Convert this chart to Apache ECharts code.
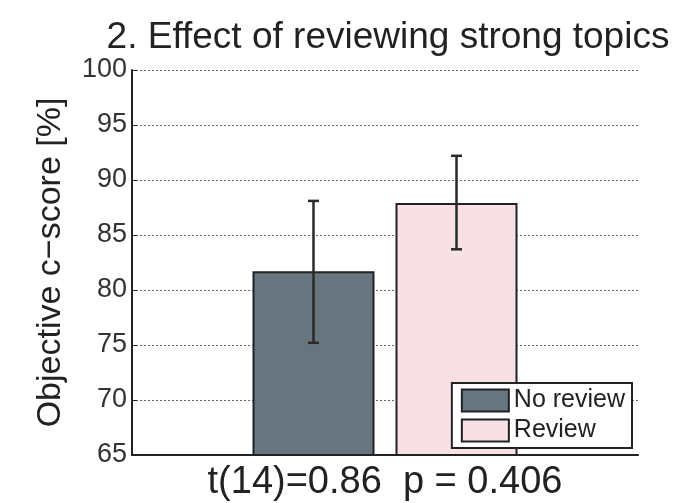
<!DOCTYPE html>
<html>
<head>
<meta charset="utf-8">
<script src="https://cdn.jsdelivr.net/npm/echarts@6/dist/echarts.min.js"></script>
<style>html,body{margin:0;padding:0;background:#fff;}#c{width:687px;height:503px;}</style>
</head>
<body>
<div id="c"></div>
<script>
var titleText = '2. Effect of reviewing strong topics';
var xLabel = 't(14)=0.86  p = 0.406';
var yLabel = 'Objective c\u2212score [%]';
var categories = ['group'];
var seriesNames = ['No review', 'Review'];
var means = [81.7, 87.9];
var errLow = [75.2, 83.7];
var errHigh = [88.1, 92.2];
var yTicks = [65, 70, 75, 80, 85, 90, 95, 100];

var colors = ['#67757e', '#f7e1e4'];
var barWidth = 122;
var barGapPx = 21;
var font = 'Liberation Sans';

var chart = echarts.init(document.getElementById('c'));
var series = seriesNames.map(function (n, i) {
  return {
    name: n, type: 'bar', data: [means[i]], barWidth: barWidth, barGap: (barGapPx / barWidth * 100) + '%',
    itemStyle: { color: colors[i], borderColor: '#222', borderWidth: 2 }, z: 2
  };
});
series.push({
  type: 'custom', z: 5, silent: true,
  data: seriesNames.map(function (n, i) { return [0, errLow[i], errHigh[i], i]; }),
  renderItem: function (params, api) {
    var i = api.value(3);
    var off = (i === 0 ? -1 : 1) * (barWidth + barGapPx) / 2;
    var lo = api.coord([api.value(0), api.value(1)]);
    var hi = api.coord([api.value(0), api.value(2)]);
    var x = lo[0] + off, hw = 5.5;
    var st = { stroke: '#2a2a2a', lineWidth: 2.5 };
    return { type: 'group', children: [
      { type: 'line', shape: { x1: x, y1: lo[1], x2: x, y2: hi[1] }, style: st },
      { type: 'line', shape: { x1: x - hw, y1: lo[1], x2: x + hw, y2: lo[1] }, style: st },
      { type: 'line', shape: { x1: x - hw, y1: hi[1], x2: x + hw, y2: hi[1] }, style: st }
    ]};
  }
});

chart.setOption({
  animation: false,
  backgroundColor: '#fff',
  title: { text: titleText, left: 383, top: 14, textAlign: 'center',
    textStyle: { fontFamily: font, fontSize: 37, fontWeight: 'normal', color: '#222' } },
  grid: { left: 132, right: 49, top: 70, bottom: 48, outerBoundsMode: 'none', containLabel: false },
  legend: {
    data: seriesNames, orient: 'vertical', right: 55, bottom: 55,
    backgroundColor: '#fff', borderColor: '#222', borderWidth: 2, borderRadius: 0,
    padding: [5, 7, 5, 9], itemGap: 5, itemWidth: 47, itemHeight: 22,
    textStyle: { fontFamily: font, fontSize: 25, color: '#222' },
    icon: 'rect', selectedMode: false
  },
  xAxis: {
    type: 'category', data: categories, name: xLabel, nameLocation: 'middle', nameGap: 9,
    nameTextStyle: { fontFamily: font, fontSize: 38, color: '#222' },
    axisLine: { lineStyle: { color: '#222', width: 2 } },
    axisTick: { show: false }, axisLabel: { show: false }
  },
  yAxis: {
    type: 'value', min: 65, max: 100, interval: 5,
    name: yLabel, nameLocation: 'middle', nameGap: 64,
    nameTextStyle: { fontFamily: font, fontSize: 34, color: '#222' },
    axisLine: { show: true, lineStyle: { color: '#222', width: 2 } },
    axisTick: { show: true, inside: true, length: 5, lineStyle: { color: '#222' } },
    axisLabel: { fontFamily: font, fontSize: 27, color: '#333', margin: 5,
      formatter: function (v) { return yTicks.indexOf(v) >= 0 ? String(v) : ''; } },
    splitLine: { show: true, lineStyle: { color: '#666', type: [2, 2], width: 1 } }
  },
  series: series
});
</script>
</body>
</html>
